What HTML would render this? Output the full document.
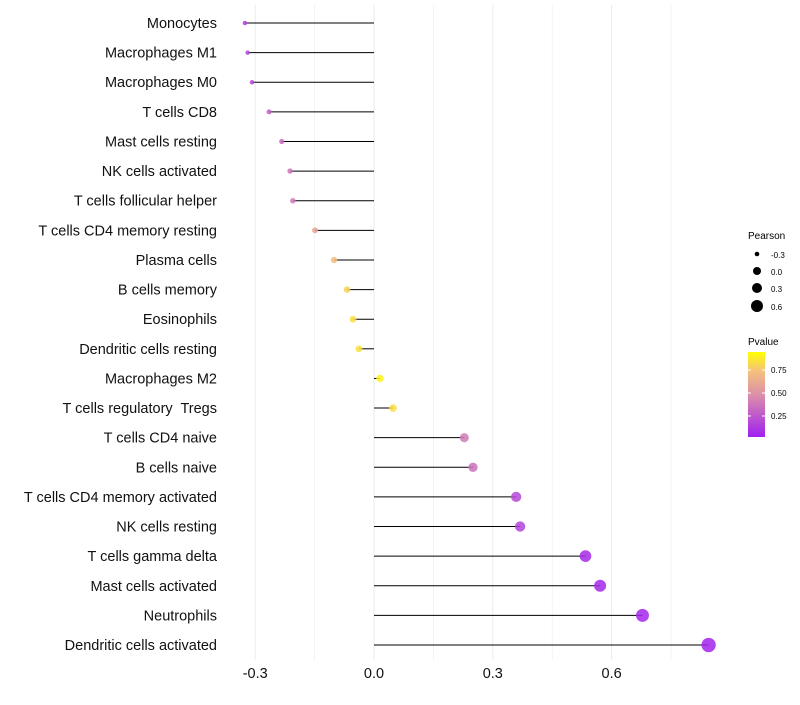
<!DOCTYPE html>
<html><head><meta charset="utf-8"><style>
body{margin:0;background:#fff;font-family:"Liberation Sans",sans-serif}
svg text{font-family:"Liberation Sans",sans-serif;white-space:pre}
</style></head><body>
<svg id="c" width="800" height="700" xmlns="http://www.w3.org/2000/svg">
<defs><linearGradient id="pg" x1="0" y1="1" x2="0" y2="0">
<stop offset="0" stop-color="#A020F0"/><stop offset="0.5" stop-color="#DC90A8"/><stop offset="0.78" stop-color="#F5C27A"/><stop offset="1" stop-color="#FFFF00"/></linearGradient></defs>
<g id="grid"></g><g id="marks"></g><g id="axes"></g>
<g>
<text x="748" y="239" font-size="10">Pearson</text>
<circle cx="757" cy="254" r="2.3" fill="#000"/><text x="771" y="258" font-size="8">-0.3</text>
<circle cx="757" cy="271" r="4" fill="#000"/><text x="771" y="275" font-size="8">0.0</text>
<circle cx="757" cy="288" r="5" fill="#000"/><text x="771" y="292" font-size="8">0.3</text>
<circle cx="757" cy="306" r="6" fill="#000"/><text x="771" y="310" font-size="8">0.6</text>
</g>
<g>
<text x="748" y="345" font-size="10">Pvalue</text>
<rect x="748" y="352" width="17" height="85" fill="url(#pg)"/>
<line x1="748" y1="370" x2="751" y2="370" stroke="#fff"/><line x1="762" y1="370" x2="765" y2="370" stroke="#fff"/>
<line x1="748" y1="393" x2="751" y2="393" stroke="#fff"/><line x1="762" y1="393" x2="765" y2="393" stroke="#fff"/>
<line x1="748" y1="416" x2="751" y2="416" stroke="#fff"/><line x1="762" y1="416" x2="765" y2="416" stroke="#fff"/>
<text x="771" y="373" font-size="8">0.75</text><text x="771" y="396" font-size="8">0.50</text><text x="771" y="419" font-size="8">0.25</text>
</g>
</svg>
<script>
const categories=["Monocytes","Macrophages M1","Macrophages M0","T cells CD8","Mast cells resting","NK cells activated","T cells follicular helper","T cells CD4 memory resting","Plasma cells","B cells memory","Eosinophils","Dendritic cells resting","Macrophages M2","T cells regulatory  Tregs","T cells CD4 naive","B cells naive","T cells CD4 memory activated","NK cells resting","T cells gamma delta","Mast cells activated","Neutrophils","Dendritic cells activated"];
const pearson=[-0.326,-0.319,-0.308,-0.265,-0.233,-0.212,-0.205,-0.149,-0.101,-0.068,-0.053,-0.038,0.015,0.048,0.228,0.250,0.359,0.369,0.534,0.571,0.678,0.845];
const pvalue=[0.15,0.16,0.18,0.28,0.33,0.38,0.40,0.62,0.75,0.85,0.88,0.90,0.96,0.88,0.40,0.36,0.18,0.16,0.05,0.04,0.03,0.02];
const xTicks=[-0.3,0,0.3,0.6];
const xTickLabels=["-0.3","0.0","0.3","0.6"];
const NS="http://www.w3.org/2000/svg";
const x=v=>374+v*396;
const y=i=>23+i*(622/21);
const r=v=>2.2+(v+0.33)*(5/1.18);
function col(p){
 const st=[[0,[160,32,240]],[0.5,[220,144,168]],[0.78,[245,194,122]],[1,[255,255,0]]];
 for(let k=1;k<st.length;k++){if(p<=st[k][0]){const a=st[k-1],b=st[k],t=(p-a[0])/(b[0]-a[0]);return `rgb(${a[1].map((c,j)=>Math.round(c+(b[1][j]-c)*t)).join(",")})`;}}
 return "rgb(255,255,0)";
}
function mk(t,a,parent){const e=document.createElementNS(NS,t);for(const k in a)e.setAttribute(k,a[k]);document.getElementById(parent).appendChild(e);return e;}
[-0.3,-0.15,0,0.15,0.3,0.45,0.6,0.75].forEach(v=>{
 const g=mk("line",{x1:x(v),x2:x(v),y1:5,y2:660,stroke:"#ebebeb","stroke-width":Math.round(v*100)%30===0?1:0.6},"grid");
 
 
});
categories.forEach((c,i)=>{
 const l=mk("line",{x1:x(0),x2:x(pearson[i]),y1:y(i),y2:y(i),stroke:"#000","stroke-width":1},"marks");
 
 
 const p=mk("circle",{cx:x(pearson[i]),cy:y(i),r:r(pearson[i]),fill:col(pvalue[i]),"fill-opacity":0.85},"marks");
 
 
 const t=mk("text",{x:217,y:y(i)+5,"font-size":14.5,"text-anchor":"end",fill:"#111"},"axes");
 t.textContent=c;
 
 
});
xTicks.forEach((v,i)=>{
 const t=mk("text",{x:x(v),y:678,"font-size":14.5,"text-anchor":"middle",fill:"#111"},"axes");
 t.textContent=xTickLabels[i];
 
 
});
</script>
</body></html>
